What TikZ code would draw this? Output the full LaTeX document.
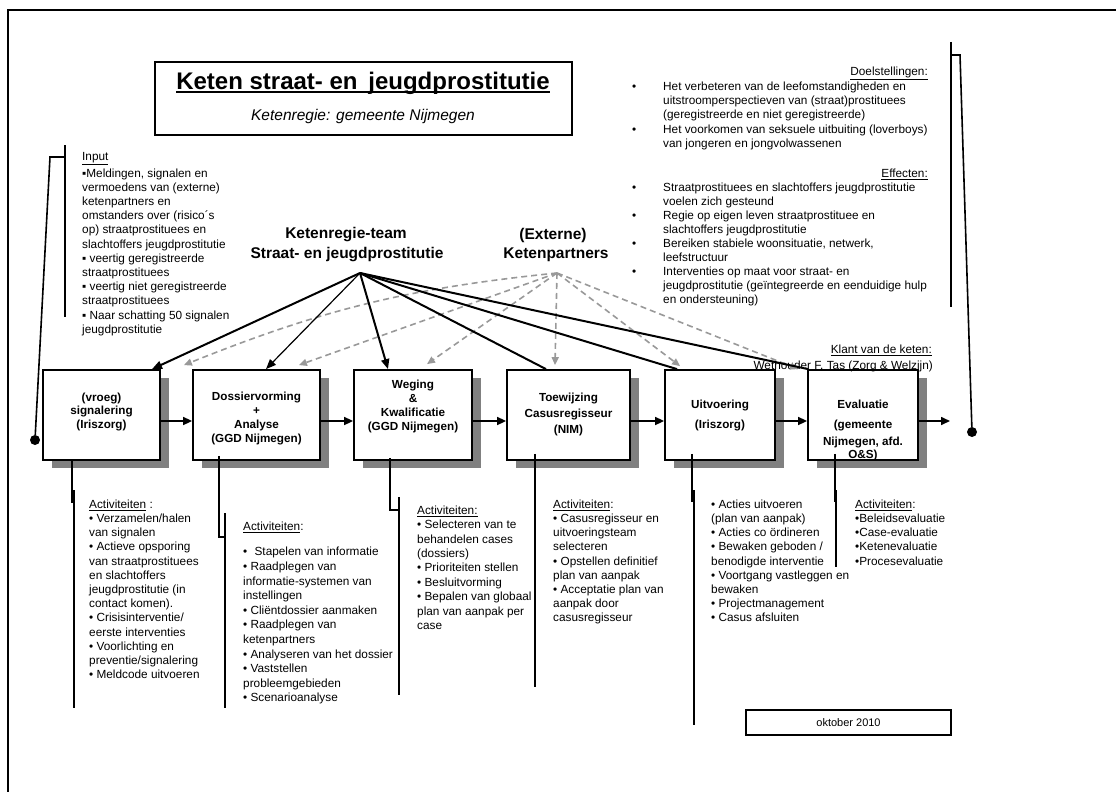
\documentclass[tikz,border=0pt]{standalone}
\usepackage{fontspec}
\setmainfont{Liberation Sans}
\usetikzlibrary{arrows.meta,shadows}

\definecolor{schaduw}{gray}{0.5}
\definecolor{partner}{gray}{0.6}

\newcommand{\doelpunt}{\makebox[31pt][l]{•}}
\newcommand{\doelin}{\hspace*{31pt}}

\tikzset{
  blok/.style={draw, line width=1.8pt, fill=white, minimum height=90pt,
    drop shadow={shadow xshift=9pt, shadow yshift=-8pt, fill=schaduw, opacity=1}},
  bloktekst/.style={anchor=north, align=center, inner sep=0pt,
    font=\bfseries\fontsize{11.7}{14}\selectfont},
  lijst/.style={anchor=north west, align=left, inner sep=0pt,
    font=\fontsize{11.8}{14.2}\selectfont},
  regel/.style={inner sep=0pt, font=\fontsize{11.8}{14.2}\selectfont},
  kop/.style={inner sep=0pt, font=\bfseries\fontsize{15.5}{20}\selectfont},
  pijl/.style={line width=1.6pt, -{Triangle[length=9pt,width=8pt]}},
  regie/.style={line width=2pt, -{Triangle[length=10pt,width=8pt]}},
  regielijn/.style={line width=2pt},
  partnerpijl/.style={draw=partner, line width=1.6pt, dash pattern=on 6pt off 4pt,
    -{Triangle[length=8pt,width=7pt,fill=partner]}},
  beugel/.style={line width=1.6pt},
  stip/.style={circle, fill, inner sep=0pt, minimum size=10pt},
}

\begin{document}
\begin{tikzpicture}[x=1pt, y=-1pt]
  \useasboundingbox (0,0) rectangle (1116,792);

  %%%%%%%%%% Kader %%%%%%%%%%
  \draw[line width=2.6pt] (8,792) -- (8,10) -- (1116,10);

  %%%%%%%%%% Titel %%%%%%%%%%
  \node[draw, line width=1.5pt, minimum width=417pt, minimum height=73pt] (titel) at (363.5,98.5) {};
  \node[inner sep=0pt, anchor=base, font=\bfseries\fontsize{24}{28}\selectfont] (titeltekst) at (363,89) {Keten straat- en\hspace{4pt} jeugdprostitutie};
  \draw[line width=2.4pt] ([yshift=-3pt]titeltekst.base west) -- ([yshift=-3pt]titeltekst.base east);
  \node[inner sep=0pt, font=\itshape\fontsize{15.5}{18}\selectfont] (regie) at (363,116) {Ketenregie: gemeente Nijmegen};

  %%%%%%%%%% Blokken %%%%%%%%%%
  \node[blok, minimum width=117pt] (b1) at (101.5,415) {};
  \node[blok, minimum width=127pt] (b2) at (256.5,415) {};
  \node[blok, minimum width=118pt] (b3) at (413,415) {};
  \node[blok, minimum width=123pt] (b4) at (568.5,415) {};
  \node[blok, minimum width=110pt] (b5) at (720,415) {};
  \node[blok, minimum width=110pt] (b6) at (863,415) {};

  \node[bloktekst, font=\bfseries\fontsize{11.7}{13.5}\selectfont] (t1) at (101.5,392.5) {(vroeg)\\signalering\\(Iriszorg)};
  \node[bloktekst] (t2) at (256.5,391.5) {Dossiervorming\\+\\Analyse\\(GGD Nijmegen)};
  \node[bloktekst] (t3) at (413,379.5) {Weging\\\&\\Kwalificatie\\(GGD Nijmegen)};
  \node[bloktekst, font=\bfseries\fontsize{11.7}{16}\selectfont] (t4) at (568.5,392.5) {Toewijzing\\Casusregisseur\\(NIM)};
  \node[bloktekst] (t5) at (720,399.5) {Uitvoering\\[6pt](Iriszorg)};
  \node[bloktekst] (t6) at (863,399.5) {Evaluatie\\[6pt](gemeente\\[3pt]Nijmegen, afd.\\[-1pt]O\&S)};

  %%%%%%%%%% Teksten %%%%%%%%%%
  \node[kop] (team) at (346,235) {Ketenregie-team};
  \node[kop] (team2) at (347,255) {Straat- en jeugdprostitutie};
  \node[kop] (extern) at (553,235) {(Externe)};
  \node[kop] (extern2) at (556,255) {Ketenpartners};
  \coordinate (kr) at (360,273);
  \coordinate (ep) at (557,273);

  \node[lijst] (input) at (82,152.5) {\underline{Input}\\[2pt]
    ▪Meldingen, signalen en\\
    vermoedens van (externe)\\
    ketenpartners en\\
    omstanders over (risico´s\\
    op) straatprostituees en\\
    slachtoffers jeugdprostitutie\\
    ▪ veertig geregistreerde\\
    straatprostituees\\
    ▪ veertig niet geregistreerde\\
    straatprostituees\\
    ▪ Naar schatting 50 signalen\\
    jeugdprostitutie};

  \node[regel, anchor=east] (doel) at (928,73) {\underline{Doelstellingen:}};
  \node[lijst, font=\fontsize{11.8}{14.3}\selectfont] (doellijst) at (632,81.5) {%
    \doelpunt Het verbeteren van de leefomstandigheden en\\
    \doelin uitstroomperspectieven van (straat)prostituees\\
    \doelin (geregistreerde en niet geregistreerde)\\
    \doelpunt Het voorkomen van seksuele uitbuiting (loverboys)\\
    \doelin van jongeren en jongvolwassenen};
  \node[regel, anchor=east] (effect) at (928,174) {\underline{Effecten:}};
  \node[lijst, font=\fontsize{11.8}{14.0}\selectfont] (effectlijst) at (632,182.5) {%
    \doelpunt Straatprostituees en slachtoffers jeugdprostitutie\\
    \doelin voelen zich gesteund\\
    \doelpunt Regie op eigen leven straatprostituee en\\
    \doelin slachtoffers jeugdprostitutie\\
    \doelpunt Bereiken stabiele woonsituatie, netwerk,\\
    \doelin leefstructuur\\
    \doelpunt Interventies op maat voor straat- en\\
    \doelin jeugdprostitutie (geïntegreerde en eenduidige hulp\\
    \doelin en ondersteuning)};

  \node[regel, anchor=east] (klant) at (932,350) {\underline{Klant van de keten:}};
  \node[regel, anchor=east] (wethouder) at (933,366) {Wethouder F. Tas (Zorg \& Welzijn)};

  \node[lijst] (act1) at (89,499.5) {\underline{Activiteiten} :\\
    • Verzamelen/halen\\
    van signalen\\
    • Actieve opsporing\\
    van straatprostituees\\
    en slachtoffers\\
    jeugdprostitutie (in\\
    contact komen).\\
    • Crisisinterventie/\\
    eerste interventies\\
    • Voorlichting en\\
    preventie/signalering\\
    • Meldcode uitvoeren};
  \node[lijst, font=\fontsize{11.8}{14.6}\selectfont] (act2) at (243,521.5) {\underline{Activiteiten}:\\[11pt]
    •\hspace{4pt} Stapelen van informatie\\
    • Raadplegen van\\
    informatie-systemen van\\
    instellingen\\
    • Cliëntdossier aanmaken\\
    • Raadplegen van\\
    ketenpartners\\
    • Analyseren van het dossier\\
    • Vaststellen\\
    probleemgebieden\\
    • Scenarioanalyse};
  \node[lijst, font=\fontsize{11.8}{14.4}\selectfont] (act3) at (417,505.5) {\underline{Activiteiten:}\\
    • Selecteren van te\\
    behandelen cases\\
    (dossiers)\\
    • Prioriteiten stellen\\
    • Besluitvorming\\
    • Bepalen van globaal\\
    plan van aanpak per\\
    case};
  \node[lijst] (act4) at (553,499.5) {\underline{Activiteiten}:\\
    • Casusregisseur en\\
    uitvoeringsteam\\
    selecteren\\
    • Opstellen definitief\\
    plan van aanpak\\
    • Acceptatie plan van\\
    aanpak door\\
    casusregisseur};
  \node[lijst] (act5) at (711,499.5) {• Acties uitvoeren\\
    (plan van aanpak)\\
    • Acties co ördineren\\
    • Bewaken geboden /\\
    benodigde interventie\\
    • Voortgang vastleggen en\\
    bewaken\\
    • Projectmanagement\\
    • Casus afsluiten};
  \node[lijst] (act6) at (855,499.5) {\underline{Activiteiten}:\\
    •Beleidsevaluatie\\
    •Case-evaluatie\\
    •Ketenevaluatie\\
    •Procesevaluatie};

  \node[draw, line width=1.3pt, minimum width=205pt, minimum height=25pt, inner sep=0pt,
    font=\fontsize{11}{13}\selectfont] (datum) at (848.5,722.5) {oktober 2010};

  %%%%%%%%%% Beugels %%%%%%%%%%
  \node[stip] (inL) at (35,440) {};
  \coordinate (inK) at (50,157);
  \draw[beugel] (inL) -- (inK) -- (65,157);
  \draw[line width=1.8pt] (65,145) -- (65,317);

  \node[stip] (uitR) at (972,432) {};
  \coordinate (doelK) at (960,55);
  \draw[beugel] (uitR) -- (doelK) -- (951,55);
  \draw[line width=1.8pt] (951,42) -- (951,307);

  \draw[beugel] ([xshift=-29.5pt]b1.south) |- (74,502);
  \draw[beugel] (74,490) -- (74,708);
  \draw[beugel] ([xshift=-37.5pt,yshift=5pt]b2.south) |- (225,537);
  \draw[beugel] (225,513) -- (225,708);
  \draw[beugel] ([xshift=-23pt,yshift=3pt]b3.south) |- (399,510);
  \draw[beugel] (399,497) -- (399,695);
  \draw[beugel] ([xshift=-33.5pt,yshift=7pt]b4.south) -- (535,687);
  \draw[beugel] ([xshift=-28pt,yshift=7pt]b5.south) -- (692,502);
  \draw[beugel] (694,490) -- (694,725);
  \draw[beugel] ([xshift=-28pt,yshift=7pt]b6.south) -- (835,502);
  \draw[beugel] (836,490) -- (836,567);

  %%%%%%%%% Pijlen %%%%%%%%%
  \draw[pijl] ([yshift=-6pt]b1.east) -- ([yshift=-6pt]b2.west);
  \draw[pijl] ([yshift=-6pt]b2.east) -- ([yshift=-6pt]b3.west);
  \draw[pijl] ([yshift=-6pt]b3.east) -- ([yshift=-6pt]b4.west);
  \draw[pijl] ([yshift=-6pt]b4.east) -- ([yshift=-6pt]b5.west);
  \draw[pijl] ([yshift=-6pt]b5.east) -- ([yshift=-6pt]b6.west);
  \coordinate (uit) at (950,421);
  \draw[pijl] ([yshift=-6pt]b6.east) -- (uit);

  \draw[partnerpijl] (ep) to[bend right=8] ([xshift=23pt,yshift=4pt]b1.north east);
  \draw[partnerpijl] (ep) -- ([xshift=-22pt,yshift=4pt]b2.north east);
  \draw[partnerpijl] (ep) -- ([xshift=14pt,yshift=5pt]b3.north);
  \draw[partnerpijl] (ep) -- ([xshift=-13.5pt,yshift=4pt]b4.north);
  \draw[partnerpijl] (ep) -- ([xshift=16pt,yshift=3pt]b5.north west);
  \draw[partnerpijl] (ep) -- ([xshift=-9pt]b6.north west);

  \draw[regie] (kr) -- ([xshift=50.5pt]b1.north);
  \draw[regie, line width=1.2pt] (kr) -- ([xshift=9.5pt]b2.north);
  \draw[regie] (kr) -- ([xshift=-25pt]b3.north);
  \draw[regielijn] (kr) -- ([xshift=-22.5pt]b4.north);
  \draw[regielijn] (kr) -- ([xshift=-43pt]b5.north);
  \draw[regielijn] (kr) -- ([xshift=1pt]b6.north west);
\end{tikzpicture}
\end{document}
